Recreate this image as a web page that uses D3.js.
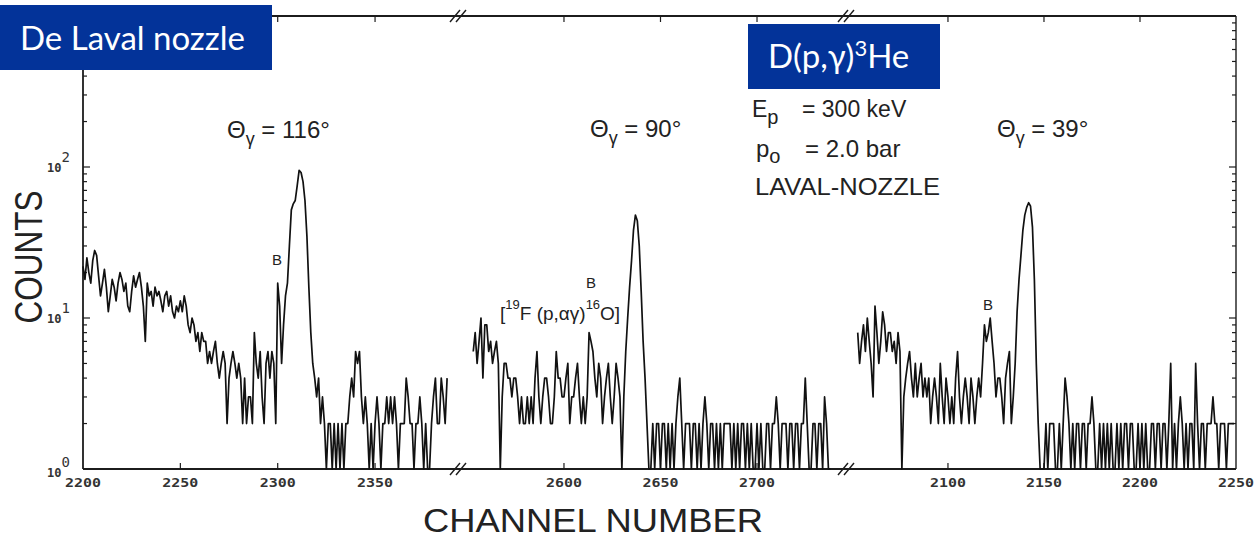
<!DOCTYPE html>
<html><head><meta charset="utf-8">
<script src="https://cdn.jsdelivr.net/npm/d3@7"></script>
<style>
body{margin:0;background:#fff;}
svg{display:block;}
</style></head><body>
<div id="chart"></div>
<script>
// counts per channel (one value per channel)
const seg1Start=2200;
const seg1Counts=[
  22,18,25,20,17,24,28,26,19,14, 17,21,16,11,14,18,16,13,17,20,
  18,15,17,12,11,15,19,16,18,20, 16,12,7,17,14,15,12,16,14,15,
  13,11,14,15,12,14,11,10,12,11, 13,11,14,12,9,8,10,9,7,8,
  6,8,7,7,5,6,5,6,7,5, 4,5,6,5,2,4,5,6,5,4,
  5,4,2,4,2,3,3,2,8,5, 4,6,3,2,5,6,4,6,5,2,
  17,12,5,9,14,17,30,52,57,60, 75,95,92,80,60,35,16,8,5,4,
  3,4,2,3,2,1,2,2,1,2, 1,2,1,2,1,2,2,3,4,3,
  6,5,6,3,2,3,2,1,2,1, 2,3,2,1,2,2,3,2,3,2,
  3,2,1,2,2,2,4,3,2,2, 1,2,2,3,2,1,2,1,1,2,
  3,4,2,2,4,3,2,4
];
const seg2Start=2553;
const seg2Counts=[
  6,8,5,7,10,4,9,
  9,6,7,5,6,7,5,1,3,5, 5,4,4,3,4,4,3,2,3,2,
  2,3,2,3,2,4,6,3,2,3, 4,4,3,2,2,3,6,4,4,3,
  3,4,5,2,3,3,4,5,3,2, 3,2,3,8,7,6,4,3,5,4,
  2,3,4,5,3,2,3,5,4,3, 1,3,6,10,16,24,38,48,44,30,
  15,7,4,2,1,1,2,1,2,2, 1,2,2,1,2,1,2,1,2,3,
  4,2,1,2,2,2,1,2,2,1, 2,1,2,3,2,1,2,2,1,2,
  1,2,1,2,2,2,2,1,2,1, 2,1,2,2,1,2,1,2,1,1,
  2,1,2,1,1,2,2,1,2,2, 3,2,1,2,2,2,1,2,2,1,
  2,2,1,2,2,4,2,1,1,2, 2,1,2,2,1,3,2,1,1
];
const seg3Start=2053;
const seg3Counts=[
  8,5,7,9,6,10,7,
  5,3,12,8,5,7,11,9,6,8, 8,6,7,5,8,6,1,3,4,5,
  6,4,3,5,3,4,5,3,4,3, 4,2,3,4,3,2,5,3,2,4,
  3,2,3,2,4,6,3,2,3,4, 3,2,4,3,2,3,4,3,5,9,
  7,8,10,7,5,3,4,4,3,2, 4,5,6,2,3,5,11,18,26,38,
  48,54,58,55,40,18,5,2,1,1, 1,2,1,2,2,2,1,1,2,1,
  2,4,3,2,1,2,1,2,2,1, 2,2,1,2,2,3,2,1,1,2,
  1,2,1,2,1,2,1,1,2,1, 2,1,2,2,1,2,2,1,1,2,
  1,2,1,2,1,1,2,2,1,2, 2,1,2,2,1,2,5,1,2,1,
  2,3,2,1,2,1,2,2,1,5, 2,1,2,2,1,2,2,2,3,2,
  2,1,2,2,2,1,2,2,2,2
];
// visible channel window of each axis piece
const seg1Domain=[2200,2392.6];
const seg2Domain=[2545.1,2746.1];
const seg3Domain=[2046.9,2250];
const seg1Ticks=[2200,2250,2300,2350];
const seg2Ticks=[2600,2650,2700];
const seg3Ticks=[2100,2150,2200,2250];
const yDecades=[0,1,2];
const angleLabels=["116°","90°","39°"];

(function(){
const W=1254,H=540;
const mLeft=83,mRight=1236,mTop=16,mBottom=469;
const breaks=[458,846];

const svg=d3.select("#chart").append("svg").attr("width",W).attr("height",H)
  .style("font-family","'Liberation Sans',Arial,sans-serif");

const y=d3.scaleLog().domain([1,1000]).range([mBottom,mTop]);
const segs=[
  {start:seg1Start,counts:seg1Counts,ticks:seg1Ticks,x:d3.scaleLinear().domain(seg1Domain).range([mLeft,breaks[0]])},
  {start:seg2Start,counts:seg2Counts,ticks:seg2Ticks,x:d3.scaleLinear().domain(seg2Domain).range([breaks[0],breaks[1]])},
  {start:seg3Start,counts:seg3Counts,ticks:seg3Ticks,x:d3.scaleLinear().domain(seg3Domain).range([breaks[1],mRight])}
];
const ink="#1c1c1c";

// frame
const frame=svg.append("g").attr("stroke",ink).attr("stroke-width",1.8).attr("fill","none");
frame.append("line").attr("x1",mLeft).attr("x2",mRight).attr("y1",mBottom).attr("y2",mBottom);
frame.append("line").attr("x1",mLeft).attr("x2",mRight).attr("y1",mTop).attr("y2",mTop);
frame.append("line").attr("x1",mLeft).attr("x2",mLeft).attr("y1",mTop).attr("y2",mBottom);
frame.append("line").attr("x1",mRight).attr("x2",mRight).attr("y1",mTop).attr("y2",mBottom).attr("stroke-width",1.4);

// axis break marks
breaks.forEach(bx=>{
  [mTop,mBottom].forEach(by=>{
    [-3,3].forEach(o=>{
      frame.append("line")
        .attr("x1",bx+o-5).attr("y1",by+6)
        .attr("x2",bx+o+5).attr("y2",by-6)
        .attr("stroke-width",1.4);
    });
  });
});

// y ticks, log minor ticks on both sides
const yTickVals=[];
yDecades.forEach(k=>{for(let m=1;m<=9;m++)yTickVals.push(m*Math.pow(10,k));});
yTickVals.push(1000);
yTickVals.forEach(v=>{
  const major=Math.abs(Math.log10(v)%1)<1e-9;
  const len=major?7:4;
  frame.append("line").attr("x1",mLeft).attr("x2",mLeft+len).attr("y1",y(v)).attr("y2",y(v)).attr("stroke-width",1.2);
  frame.append("line").attr("x1",mRight).attr("x2",mRight-len).attr("y1",y(v)).attr("y2",y(v)).attr("stroke-width",1.2);
});
yDecades.forEach(k=>{
  const t=svg.append("text")
    .attr("x",47).attr("y",y(Math.pow(10,k))+(k===0?8:5))
    .attr("font-family","'DejaVu Sans Mono',monospace")
    .attr("font-size",12).attr("font-weight",700).attr("fill","#333")
    .text("10");
  t.append("tspan").attr("dy",-10).attr("font-size",14).attr("font-weight",400).text(k);
});

// x ticks per segment
segs.forEach(s=>{
  s.ticks.forEach(t=>{
    const tx=s.x(t);
    if(tx>mLeft+2&&tx<mRight-2){
      frame.append("line").attr("x1",tx).attr("x2",tx).attr("y1",mBottom).attr("y2",mBottom-6).attr("stroke-width",1.2);
      frame.append("line").attr("x1",tx).attr("x2",tx).attr("y1",mTop).attr("y2",mTop+6).attr("stroke-width",1.2);
    }
    svg.append("text")
      .attr("x",tx).attr("y",487)
      .attr("text-anchor","middle")
      .attr("font-family","'DejaVu Sans Mono',monospace")
      .attr("font-size",13).attr("font-weight",700).attr("fill","#333")
      .attr("textLength",36).attr("lengthAdjust","spacingAndGlyphs")
      .text(t);
  });
});

// spectra
const data=segs.map(s=>s.counts.map((v,i)=>({ch:s.start+i,v})));
segs.forEach((s,i)=>{
  const line=d3.line().x(d=>s.x(d.ch)).y(d=>y(Math.max(d.v,1)));
  svg.append("path").datum(data[i])
    .attr("d",line)
    .attr("fill","none").attr("stroke","#111")
    .attr("stroke-width",1.7).attr("stroke-linejoin","round");
});

// angle labels
const anglePos=[[227,138],[590,137],[997,137]];
angleLabels.forEach((a,i)=>{
  const t=svg.append("text").attr("x",anglePos[i][0]).attr("y",anglePos[i][1])
    .attr("font-size",24).attr("fill","#222").text("Θ");
  t.append("tspan").attr("dy",7).attr("font-size",18).text("γ");
  t.append("tspan").attr("dy",-7).attr("font-size",24).text(" = "+a);
});

// peak markers
[[277,265],[591,288],[988,310]].forEach(p=>{
  svg.append("text").attr("x",p[0]).attr("y",p[1]).attr("text-anchor","middle")
    .attr("font-size",15).attr("fill","#222").text("B");
});
const fl=svg.append("text").attr("x",500).attr("y",320).attr("font-size",19).attr("fill","#222").text("[");
fl.append("tspan").attr("dy",-11).attr("font-size",13).text("19");
fl.append("tspan").attr("dy",11).text("F (p,αγ)");
fl.append("tspan").attr("dy",-11).attr("font-size",13).text("16");
fl.append("tspan").attr("dy",11).text("O]");

// run conditions
const ep=svg.append("text").attr("x",752).attr("y",117).attr("font-size",23).attr("fill","#222").text("E");
ep.append("tspan").attr("dy",7).attr("font-size",20).text("p");
ep.append("tspan").attr("x",802).attr("dy",-7).text("= 300 keV");
const po=svg.append("text").attr("x",756).attr("y",157).attr("font-size",24).attr("fill","#222").text("p");
po.append("tspan").attr("dy",6).attr("font-size",20).text("o");
po.append("tspan").attr("x",805).attr("dy",-6).text("= 2.0 bar");
svg.append("text").attr("x",755).attr("y",195).attr("font-size",23).attr("fill","#222")
  .attr("textLength",185).attr("lengthAdjust","spacingAndGlyphs").text("LAVAL-NOZZLE");

// axis titles
svg.append("text").attr("transform","translate(42,257) rotate(-90)")
  .attr("text-anchor","middle").attr("font-size",38).attr("fill","#222")
  .attr("textLength",133).attr("lengthAdjust","spacingAndGlyphs").text("COUNTS");
svg.append("text").attr("x",593).attr("y",532).attr("text-anchor","middle")
  .attr("font-size",33).attr("fill","#222")
  .attr("textLength",340).attr("lengthAdjust","spacingAndGlyphs").text("CHANNEL NUMBER");

// slide boxes
svg.append("rect").attr("x",0).attr("y",5).attr("width",272).attr("height",65).attr("fill","#033399");
svg.append("text").attr("x",20).attr("y",50).attr("font-family","Lato,'Open Sans',sans-serif")
  .attr("font-size",33).attr("fill","#fff").text("De Laval nozzle");
svg.append("rect").attr("x",748).attr("y",24).attr("width",192).attr("height",65).attr("fill","#033399");
const he=svg.append("text").attr("x",768).attr("y",68).attr("font-family","Lato,'Open Sans',sans-serif")
  .attr("font-size",33).attr("fill","#fff").text("D(p,γ)");
he.append("tspan").attr("dy",-12).attr("font-size",22).text("3");
he.append("tspan").attr("dy",12).text("He");
})();
</script>
</body></html>
